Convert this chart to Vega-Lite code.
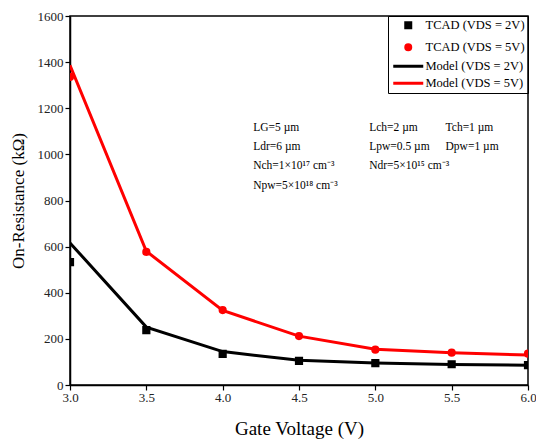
{
  "$schema": "https://vega.github.io/schema/vega-lite/v6.json",
  "width": 458,
  "height": 369,
  "autosize": "none",
  "padding": {"left": 70, "top": 16, "right": 8, "bottom": 54},
  "background": "white",
  "config": {
    "font": "Liberation Serif",
    "view": {"stroke": "black", "strokeWidth": 1.5},
    "axis": {
      "labelFont": "Liberation Serif", "titleFont": "Liberation Serif",
      "labelFontSize": 13, "titleFontWeight": "normal",
      "labelColor": "#222", "titleColor": "#000",
      "domainColor": "black", "domainWidth": 1.5, "tickColor": "black", "tickWidth": 1.2,
      "grid": false
    },
    "legend": {"labelFont": "Liberation Serif", "labelFontSize": 12.5, "labelColor": "#000"}
  },
  "datasets": {
    "curves": [
      {"V": 3.0, "R": 616, "series": "Model (VDS = 2V)", "kind": "Model"},
      {"V": 3.5, "R": 251, "series": "Model (VDS = 2V)", "kind": "Model"},
      {"V": 4.0, "R": 145, "series": "Model (VDS = 2V)", "kind": "Model"},
      {"V": 4.5, "R": 107, "series": "Model (VDS = 2V)", "kind": "Model"},
      {"V": 5.0, "R": 95, "series": "Model (VDS = 2V)", "kind": "Model"},
      {"V": 5.5, "R": 89, "series": "Model (VDS = 2V)", "kind": "Model"},
      {"V": 6.0, "R": 86, "series": "Model (VDS = 2V)", "kind": "Model"},
      {"V": 3.0, "R": 1386, "series": "Model (VDS = 5V)", "kind": "Model"},
      {"V": 3.5, "R": 580, "series": "Model (VDS = 5V)", "kind": "Model"},
      {"V": 4.0, "R": 323, "series": "Model (VDS = 5V)", "kind": "Model"},
      {"V": 4.5, "R": 212, "series": "Model (VDS = 5V)", "kind": "Model"},
      {"V": 5.0, "R": 155, "series": "Model (VDS = 5V)", "kind": "Model"},
      {"V": 5.5, "R": 140, "series": "Model (VDS = 5V)", "kind": "Model"},
      {"V": 6.0, "R": 130, "series": "Model (VDS = 5V)", "kind": "Model"},
      {"V": 3.0, "R": 533, "series": "TCAD (VDS = 2V)", "kind": "TCAD"},
      {"V": 3.5, "R": 238, "series": "TCAD (VDS = 2V)", "kind": "TCAD"},
      {"V": 4.0, "R": 135, "series": "TCAD (VDS = 2V)", "kind": "TCAD"},
      {"V": 4.5, "R": 105, "series": "TCAD (VDS = 2V)", "kind": "TCAD"},
      {"V": 5.0, "R": 95, "series": "TCAD (VDS = 2V)", "kind": "TCAD"},
      {"V": 5.5, "R": 90, "series": "TCAD (VDS = 2V)", "kind": "TCAD"},
      {"V": 6.0, "R": 86, "series": "TCAD (VDS = 2V)", "kind": "TCAD"},
      {"V": 3.0, "R": 1336, "series": "TCAD (VDS = 5V)", "kind": "TCAD"},
      {"V": 3.5, "R": 577, "series": "TCAD (VDS = 5V)", "kind": "TCAD"},
      {"V": 4.0, "R": 325, "series": "TCAD (VDS = 5V)", "kind": "TCAD"},
      {"V": 4.5, "R": 212, "series": "TCAD (VDS = 5V)", "kind": "TCAD"},
      {"V": 5.0, "R": 153, "series": "TCAD (VDS = 5V)", "kind": "TCAD"},
      {"V": 5.5, "R": 140, "series": "TCAD (VDS = 5V)", "kind": "TCAD"},
      {"V": 6.0, "R": 136, "series": "TCAD (VDS = 5V)", "kind": "TCAD"}
    ],
    "notes": [
      {"V": 4.2, "R": 1114, "label": "LG=5 µm"},
      {"V": 4.2, "R": 1032, "label": "Ldr=6 µm"},
      {"V": 4.2, "R": 950, "label": "Nch=1×10¹⁷ cm⁻³"},
      {"V": 4.2, "R": 863, "label": "Npw=5×10¹⁸ cm⁻³"},
      {"V": 4.96, "R": 1114, "label": "Lch=2 µm"},
      {"V": 4.96, "R": 1032, "label": "Lpw=0.5 µm"},
      {"V": 4.96, "R": 950, "label": "Ndr=5×10¹⁵ cm⁻³"},
      {"V": 5.46, "R": 1114, "label": "Tch=1 µm"},
      {"V": 5.46, "R": 1032, "label": "Dpw=1 µm"}
    ]
  },
  "layer": [
    {
      "data": {"name": "curves"},
      "transform": [{"filter": "datum.kind === 'TCAD'"}],
      "mark": {"type": "point", "filled": true, "opacity": 1, "size": 27, "strokeWidth": 3, "strokeOpacity": 1, "fillOpacity": 1, "clip": true},
      "encoding": {
        "x": {
          "field": "V", "type": "quantitative",
          "scale": {"domain": [3, 6], "nice": false, "zero": false},
          "axis": {
            "title": "Gate Voltage (V)",
            "titleFontSize": 19,
            "values": [3, 3.125, 3.25, 3.375, 3.5, 3.625, 3.75, 3.875, 4, 4.125, 4.25, 4.375, 4.5, 4.625, 4.75, 4.875, 5, 5.125, 5.25, 5.375, 5.5, 5.625, 5.75, 5.875, 6],
            "labelExpr": "abs(datum.value*2 - round(datum.value*2)) < 0.001 ? format(datum.value, '.1f') : ''",
            "tickSize": {"condition": {"test": "abs(datum.value*2 - round(datum.value*2)) < 0.001", "value": 5}, "value": 3},
            "labelPadding": 1,
            "titlePadding": 15,
            "labelFlush": false
          }
        },
        "y": {
          "field": "R", "type": "quantitative",
          "scale": {"domain": [0, 1600], "nice": false},
          "axis": {
            "title": "On-Resistance (kΩ)",
            "titleFontSize": 17,
            "values": [0, 100, 200, 300, 400, 500, 600, 700, 800, 900, 1000, 1100, 1200, 1300, 1400, 1500, 1600],
            "labelExpr": "datum.value % 200 === 0 ? format(datum.value, 'd') : ''",
            "tickSize": {"condition": {"test": "datum.value % 200 === 0", "value": 5}, "value": 3},
            "labelPadding": 2,
            "titlePadding": 10,
            "labelFlush": false
          }
        },
        "color": {
          "field": "series", "type": "nominal",
          "scale": {
            "domain": ["TCAD (VDS = 2V)", "TCAD (VDS = 5V)", "Model (VDS = 2V)", "Model (VDS = 5V)"],
            "range": ["#000000", "#ff0000", "#000000", "#ff0000"]
          },
          "legend": {
            "title": null,
            "orient": "top-right",
            "offset": 0,
            "strokeColor": "black",
            "padding": 3,
            "rowPadding": 4,
            "symbolSize": 25,
            "symbolOffset": 11,
            "labelOffset": 11,
            "symbolStrokeWidth": 3
          }
        },
        "stroke": {
          "field": "series", "type": "nominal",
          "scale": {
            "domain": ["TCAD (VDS = 2V)", "TCAD (VDS = 5V)", "Model (VDS = 2V)", "Model (VDS = 5V)"],
            "range": ["#000000", "#ff0000", "#000000", "#ff0000"]
          },
          "legend": {
            "title": null,
            "orient": "top-right",
            "offset": 0,
            "strokeColor": "black",
            "padding": 3,
            "rowPadding": 4,
            "symbolSize": 25,
            "symbolOffset": 11,
            "labelOffset": 11,
            "symbolStrokeWidth": 3
          }
        },
        "shape": {
          "field": "series", "type": "nominal",
          "scale": {
            "domain": ["TCAD (VDS = 2V)", "TCAD (VDS = 5V)", "Model (VDS = 2V)", "Model (VDS = 5V)"],
            "range": ["square", "circle", "M-6,0H6", "M-6,0H6"]
          },
          "legend": {
            "title": null,
            "orient": "top-right",
            "offset": 0,
            "strokeColor": "black",
            "padding": 3,
            "rowPadding": 4,
            "symbolSize": 25,
            "symbolOffset": 11,
            "labelOffset": 11,
            "symbolStrokeWidth": 3
          }
        }
      }
    },
    {
      "data": {"name": "curves"},
      "transform": [{"filter": "datum.kind === 'Model'"}],
      "mark": {"type": "line", "strokeWidth": 3, "clip": true},
      "encoding": {
        "x": {"field": "V", "type": "quantitative"},
        "y": {"field": "R", "type": "quantitative"},
        "color": {"field": "series", "type": "nominal"},
        "detail": {"field": "series"}
      }
    },
    {
      "data": {"name": "notes"},
      "mark": {"type": "text", "align": "left", "baseline": "middle", "fontSize": 11.5, "font": "Liberation Serif", "color": "#000"},
      "encoding": {
        "x": {"field": "V", "type": "quantitative"},
        "y": {"field": "R", "type": "quantitative"},
        "text": {"field": "label"}
      }
    }
  ]
}
